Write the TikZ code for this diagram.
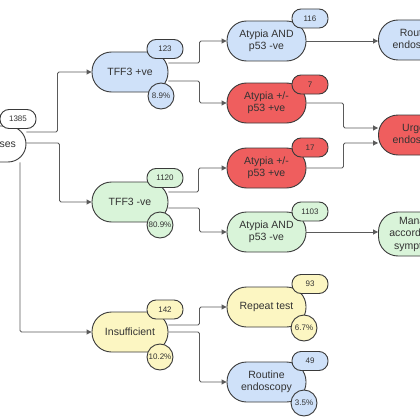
\documentclass[tikz,border=0pt]{standalone}
\usepackage{fontspec}
\setmainfont{Liberation Sans}
\usetikzlibrary{arrows.meta,backgrounds}
\definecolor{bfill}{HTML}{CFE1F9}
\definecolor{gfill}{HTML}{D9F4D9}
\definecolor{rfill}{HTML}{EF5E5E}
\definecolor{yfill}{HTML}{FCF6C2}
\definecolor{edge}{HTML}{3A3A3A}
\definecolor{linec}{HTML}{5A5A5A}
\definecolor{txt}{HTML}{333333}
\begin{document}
\begin{tikzpicture}[x=1pt,y=-1pt,
 box/.style={draw=edge, line width=0.9pt, rounded corners=19.5pt, minimum width=79pt, minimum height=40pt, inner sep=1pt, align=center, font=\fontsize{10.5}{12.5}\selectfont, text=txt},
 badge/.style={draw=edge, line width=0.9pt, rounded corners=9pt, minimum width=36pt, minimum height=19pt, inner sep=0pt, font=\fontsize{8}{9}\selectfont, text=txt},
 pct/.style={draw=edge, circle, line width=0.9pt, minimum size=26pt, inner sep=0pt, font=\fontsize{8}{9}\selectfont, text=txt},
 conn/.style={draw=linec, line width=0.9pt, -{Triangle[length=5pt,width=5pt]}, rounded corners=1.5pt},
]
\useasboundingbox (0,0) rectangle (420,420);
\clip (0,0) rectangle (420,420);

% main nodes
\node[box, fill=white, minimum width=62pt, minimum height=36pt, rounded corners=18pt] (all) at (-5,144) {All cases};
\node[badge, fill=white] (b1385) at (18,119) {1385};

\node[box, fill=bfill, minimum width=76pt] (tffp) at (130,72) {TFF3 +ve};
\node[badge, fill=bfill] (b123) at (165,49) {123};
\node[pct, fill=bfill] (c89) at (161,96) {8.9\%};

\node[box, fill=gfill, minimum width=76pt] (tffm) at (130,202) {TFF3 -ve};
\node[badge, fill=gfill] (b1120) at (165,178) {1120};
\node[pct, fill=gfill] (c809) at (160,225) {80.9\%};

\node[box, fill=yfill, minimum width=76pt] (insuf) at (130,332) {Insufficient};
\node[badge, fill=yfill] (b142) at (165,309.5) {142};
\node[pct, fill=yfill] (c102) at (160,357) {10.2\%};

\node[box, fill=bfill] (atyA) at (266.5,41) {Atypia AND\\p53 -ve};
\node[badge, fill=bfill] (b116) at (310,18.5) {116};

\node[box, fill=rfill] (aty7) at (266.5,103) {Atypia +/-\\p53 +ve};
\node[badge, fill=rfill] (b7) at (310,84.5) {7};

\node[box, fill=rfill] (aty17) at (266.5,168) {Atypia +/-\\p53 +ve};
\node[badge, fill=rfill] (b17) at (310,147.5) {17};

\node[box, fill=gfill] (atyB) at (266.5,232) {Atypia AND\\p53 -ve};
\node[badge, fill=gfill] (b1103) at (310,211.5) {1103};

\node[box, fill=yfill] (rep) at (266.5,307) {Repeat test};
\node[badge, fill=yfill] (b93) at (310,284) {93};
\node[pct, fill=yfill] (c67) at (304,328) {6.7\%};

\node[box, fill=bfill] (rout2) at (266.5,382) {Routine\\endoscopy};
\node[badge, fill=bfill] (b49) at (310,361) {49};
\node[pct, fill=bfill] (c35) at (304,403) {3.5\%};

\node[box, fill=bfill] (rout1) at (418,40) {Routine\\endoscopy};
\node[box, fill=rfill] (urg) at (418,135) {Urgent\\endoscopy};
\node[box, fill=gfill, minimum height=44pt] (man) at (418,234) {Manage\\according to\\symptoms};

% connectors
\begin{scope}[on background layer]
\draw[conn] ([yshift=12pt]all.east) -- ++(31,0) |- (tffp.west);
\draw[conn] ([yshift=1pt]all.east) -- ++(33,0) |- (tffm.west);
\draw[conn] ([xshift=25pt]all.south) |- (insuf.west);

\draw[conn] ([yshift=9pt]tffp.east) -- ++(31,0) |- (atyA.west);
\draw[conn] ([yshift=-9pt]tffp.east) -- ++(31,0) |- (aty7.west);
\draw[conn] ([yshift=10pt]tffm.east) -- ++(30,0) |- (aty17.west);
\draw[conn] ([yshift=-6pt]tffm.east) -- ++(31,0) |- (atyB.west);
\draw[conn] ([yshift=7pt]insuf.east) -- ++(31,0) |- (rep.west);
\draw[conn] (insuf.east) -- ++(31,0) |- (rout2.west);

\draw[conn] (atyA.east) -- (atyA.east -| rout1.west);
\draw[conn] (aty7.east) -- ++(37,0) |- ([yshift=7pt]urg.west);
\draw[conn] (aty17.east) -- ++(37,0) |- ([yshift=-8pt]urg.west);
\draw[conn] (atyB.east) -- (atyB.east -| man.west);
\end{scope}
\end{tikzpicture}
\end{document}
